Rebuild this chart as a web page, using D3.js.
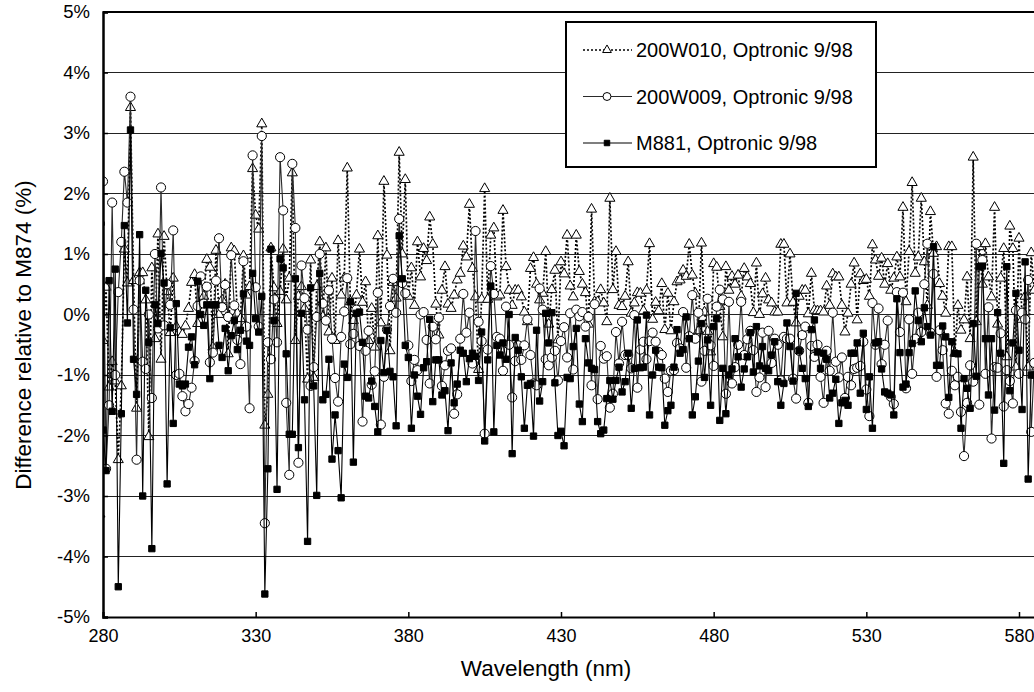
<!DOCTYPE html>
<html>
<head>
<meta charset="utf-8">
<script src="https://cdn.jsdelivr.net/npm/d3@7"></script>
<style>
  html, body { margin: 0; padding: 0; background: #fff; }
  svg { display: block; }
</style>
</head>
<body>
<div id="chart"></div>
<script>
// ── Data: difference relative to M874 (%), one value per nm from 279 nm
const START_NM = 279;

// 200W010, Optronic 9/98 (dotted, open triangles)
const tri = [
  -3.3,
  -0.43, 0.45, -1.2, -0.78, -1.1, -2.4, -1.18, 1.08, 0.52, 3.42,
  0.56, -1.55, 0.69, 0.69, 0.24, -2.02, 0.77, -0.4, 1.33, -0.74,
  1.29, 0.38, -0.3, 0.6, -0.2,
  -0.29, -0.33, -0.19, 0.1, 0.53, 0.66, -0.15, 0.2, 0.3, 0.91,
  0.78, -0.54, 1.06, 0.0, 0.24, 0.5, -0.65, 1.1, 1.05, 0.02,
  -0.07, 0.97, 0.32, 0.46, 2.41, 1.64,
  1.41, 3.15, -1.83, -1.32, 1.1, 0.44, -0.15, 0.38, 1.08, 0.24,
  0.6, 2.34, -0.43, 0.3, 0.46, 0.1, -1.07, 0.9, -1.04, 0.46,
  1.2, -0.04, 1.1, -0.29, 0.6,
  -0.43, 1.22, 0.32, 0.6, 2.42, 0.21, -0.1, 0.32,
  1.08, 0.2, 0.54, -0.43, 0.1, -0.54, 1.3, -0.14, 2.2, 0.98,
  -0.6, 0.53, 0.27, 2.68, 1.0, 2.23, 0.3, 0.77,
  0.15, 1.2, 0.62, 1.09, 0.89, 1.61, 1.16, 0.17, -0.34, 0.4,
  0.79, 0.17, 0.1, 0.32, 0.57, 0.68, 1.13, 0.95, 1.82, 0.76,
  0.29, -0.91, 0.25, 2.08, 0.25, 1.31, 1.43, 0.29, 0.32, 1.72,
  0.79, 0.4, 0.15, 0.4, 0.4, 0.29, 0.04, -0.12, 0.76, 0.94,
  0.5, 0.24, 0.35, 1.04, -0.16, 0.41, 0.73, -0.42, 0.87, 0.67,
  1.31, 0.47, 0.29, 1.31, 0.71, 0.5, 0.36, -0.16, 1.74, 0.21,
  0.21, 0.41, 0.19, -0.12, 1.92, 0.41, 1.04, 0.15, 0.13, 0.3,
  0.87, 0.02, 0.19, 0.36, 0.35, 0.06, 0.4, 1.17, -0.08, 0.2,
  0.06, 0.51, -0.25, 0.35, -0.27, 0.21, 0.54, 0.57, 0.73, 0.63,
  1.16, 0.65, 0.35, -0.27, 1.18, 0.04, -0.28, -0.62, 0.84, 0.78,
  0.13, -0.37,
  0.79, 0.4, 0.63, 0.5, 0.65, 0.3, 0.76, 0.62, 0.51, 0.03,
  0.85, 0.0, 0.34, 0.6, 0.24, 0.19, 0.04, 0.04, 1.16, 1.16,
  0.19, 1.0, 0.2, -0.14, 0.3, 0.4, 0.4, 0.01, 0.68, 0.07,
  0.06, 0.06, 0.04, 0.47, 0.15, 0.67, 0.62, 0.62, 0.15, -0.29,
  0.02, 0.5, 0.85, -0.09, 0.67, 0.56, 0.58, 0.3, 1.15, 0.9,
  0.63, 0.93, 0.5, 0.84, 0.4, 0.6, 0.95, 0.62, 1.77, 0.21,
  1.04, 2.18, 0.68, 0.95, 1.92, 0.87, 0.15, 1.7, 1.01, 1.12,
  0.51, 0.3, 0.02, 1.12, 1.12, -0.64, 0.15, -0.26, -0.09, 0.62,
  -0.4, 2.6, -0.12, 1.12, 0.5, 1.17, 0.62, 0.29, 1.77, -0.16,
  0.6, 1.09, -0.7, 1.46, 1.09, -0.87, 1.26, -0.08, 0.3, -0.87,
  1.02,
  0.4
];

// 200W009, Optronic 9/98 (solid, open circles)
const cir = [
  1.5,
  2.2, -2.55, -1.5, 1.85, -1.0, 0.37, 1.2, 2.36, 1.85, 3.6,
  0.08, -2.4, 0.56, -0.78, -0.9, 0.0, -1.38, 1.0, -0.23, 2.1,
  -0.18, 0.5, 0.16, 1.39, -1.0,
  -0.98, -1.35, -1.6, -1.48, -1.21, -0.77, 0.14, 0.63, 0.18, 0.46,
  -0.79, -0.63, 0.56, 1.26, 0.12, 0.49, -0.04, 0.98, 0.15, -0.42,
  -0.82, 0.88, -0.2, -1.55, 2.63, 0.45,
  -0.2, 2.95, -3.45, -0.46, -0.74, 0.25, -0.46, 2.6, 1.72, -1.46,
  -2.65, 2.49, 1.43, -2.45, 0.81, 0.27, -0.25, -1.18, -0.87, -0.04,
  1.0, 0.18, -0.1, 0.4, -0.4,
  -1.05, -1.44, -0.37, 0.05, 0.6, -0.49, -0.32, 0.08, -0.52, -1.77,
  -0.6, -0.27, -1.16, -0.94, 0.36, -1.82, -1.03, -0.25, 0.14, 0.59,
  0.03, 1.58, 0.52, 0.35, -0.51, -1.1,
  -0.75, -0.92, 0.0, 0.04, -0.42, -1.14, -0.2, -0.41, -0.05, -1.18,
  -0.84, -0.6, -0.56, -1.64, -1.32, -0.4, 0.34, -0.3, 0.03, -0.81,
  1.38, -0.12, -0.44, -1.97, -0.58, 0.8, 0.34, -0.37, -0.4, -0.93,
  0.13, -0.5, -1.37, -0.77, -0.51, -0.75, -0.51, -0.08, -0.67, -1.14,
  -1.17, 0.43, 0.08, -0.74, -0.84, -0.71, -0.6, -1.09, -0.44, -0.21,
  -0.71, 0.02, -0.91, 0.08, -0.03, 0.04, -0.2, -0.04, -1.17, 0.17,
  -1.4, -0.52, -0.73, -0.69, -1.54, -1.31, -0.29, -0.81, -0.12, -0.67,
  -0.67, -0.89, -0.01, -1.21, -0.58, -0.45, -0.74, -0.44, -0.3, -0.45,
  -0.62, -0.67, -1.06, -1.28, -0.93, -0.92, -0.47, -0.56, 0.04, -0.88,
  -0.36, 0.32, -0.4, 0.03, -1.11, -0.6, 0.26, -0.51, -0.85, 0.13,
  0.41, 0.25,
  -1.31, 0.21, -1.14, -0.87, -0.5, 0.21, -0.67, -0.41, -0.27, -0.59,
  -1.28, -1.04, -0.3, -1.2, -0.27, -0.8, -0.4, -0.5, -1.09, -0.37,
  -0.4, -0.4, -1.06, -1.39, -0.6, -0.34, -0.2, -1.46, -0.52, -0.7,
  -0.5, -1.03, -1.46, -0.6, -0.93, 0.03, -0.78, -1.04, -0.71, -1.38,
  -1.03, -1.17, -0.9, -0.88, -0.85, -0.45, -1.24, -1.68, 0.19, -0.5,
  0.1, -0.82, -0.5, -0.1, -1.36, -1.48, 0.37, -0.29, 0.36, -1.22,
  -0.08, -0.98, -0.4, 0.03, -0.29, 0.5, 1.17, -0.3, 0.67, -1.03,
  -0.26, -0.59, -1.47, -1.64, -0.93, -1.17, -1.03, -1.61, -2.34, -1.46,
  -0.84, -1.11, 1.17, -1.49, 0.9, -0.98, 0.12, -2.05, -0.87, -0.88,
  -0.31, -1.52, -0.92, -1.1, -1.47, 0.07, -0.98, 0.03, -0.08, 0.57,
  -1.94,
  -0.8
];

// M881, Optronic 9/98 (solid, filled squares)
const sq = [
  -5.6,
  -1.91, -2.58, 0.56, -1.6, 0.75, -4.5, -1.64, 1.47, -0.14, 3.05,
  -0.74, -1.32, 1.32, -3.0, 0.4, -0.46, -3.87, 0.16, -0.15, 1.01,
  0.52, -2.8, -0.22, -1.8, 0.18,
  -1.15, -1.18, -1.15, -0.54, -0.37, -0.83, 0.55, 0.0, -0.18, 0.16,
  -1.06, 0.16, 0.16, -0.51, -0.71, -0.23, -0.93, -0.35, -0.1, -0.58,
  -0.26, 0.34, -0.44, -0.51, 0.68, -0.07,
  -0.29, 0.3, -4.62, -2.55, 1.08, -0.1, -2.89, 0.92, 0.77, -0.65,
  -1.98, -1.98, 0.59, -2.2, 0.02, -1.41, -3.75, 0.44, -1.18, -2.99,
  0.68, -1.41, -1.32, -0.74, -2.39,
  -1.66, -2.25, -3.03, -0.82, -1.04, 0.21, -2.44, 0.02, 0.04, -0.46,
  -1.35, -1.38, -1.1, -1.52, -1.94, -0.43, -0.96, -0.26, -0.94, -1.03,
  -1.84, 1.3, 0.59, -0.51, -0.71, -1.88,
  -1.0, -1.35, -1.65, -0.88, -0.78, -0.08, -1.44, -0.75, -0.75, -1.33,
  -1.26, -1.92, -0.8, -1.46, -1.15, -0.59, -0.64, -1.11, -0.73, -0.64,
  -0.69, -1.09, -0.29, -2.09, -0.75, 0.47, -1.94, -0.51, -0.67, -0.47,
  -0.74, 0.0, -2.3, -0.38, -0.59, -1.03, -1.88, -1.17, -1.14, -2.01,
  -0.26, -1.43, -1.11, 0.02, -0.47, 0.03, -1.13, -2.0, -1.93, -2.17,
  -1.04, -1.06, -0.53, -0.23, -1.48, -1.77, -0.4, -0.8, -0.89, -0.91,
  -1.77, -1.97, -1.91, -1.39, -1.09, -1.4, -1.09, -0.87, -1.28, -1.11,
  -0.64, -1.55, -0.89, -0.09, -0.88, -0.87, -0.01, -1.66, -1.0, -0.59,
  -0.87, -0.88, -1.83, -1.59, -1.5, -0.87, -0.25, -0.64, -0.58, -0.04,
  -0.4, -1.66, -1.36, -0.77, -0.15, -1.04, -0.42, -1.5, -0.2, -0.07,
  -1.75, -0.89,
  -1.64, -1.0, -0.9, -0.4, -0.7, -1.2, -0.9, -0.7, -0.3, -0.95,
  -0.2, -0.85, -0.53, -0.89, -0.93, -0.67, -0.45, -1.11, -1.5, -1.14,
  -0.14, -0.53, -1.1, 0.35, -0.6, -0.89, -1.06, -1.52, -0.25, -0.09,
  -0.62, -0.89, -0.64, -0.74, -1.38, -1.3, -1.07, -1.8, -1.46, -1.42,
  -1.5, -0.64, -0.64, -0.47, -1.3, -0.31, -1.57, -1.03, -1.88, -0.47,
  -0.45, -0.9, -1.28, -1.3, -1.33, -1.66, 0.26, -0.63, -1.2, -1.15,
  -0.63, -0.48, 0.39, -0.1, -0.45, 0.11, -0.2, -0.34, 1.12, -0.84,
  -0.84, -0.19, -0.37, -1.37, -0.45, -0.64, -0.65, -1.88, -1.06, -1.22,
  -1.55, -0.15, -1.02, 0.79, 0.8, -0.4, -1.33, -0.4, -1.58, 0.03,
  -0.64, -2.46, 0.79, -1.26, -0.47, 0.35, -0.59, -1.57, 0.87, -2.72,
  -1.0,
  -1.0
];

const xTicks = [280, 330, 380, 430, 480, 530, 580];
const yTicks = [-5, -4, -3, -2, -1, 0, 1, 2, 3, 4, 5];

const seriesNames = ['200W010, Optronic 9/98', '200W009, Optronic 9/98', 'M881, Optronic 9/98'];

// ── Layout
const W = 1034, H = 692;
const PLOT = { left: 103, top: 12, bottom: 617 };
const PX_PER_NM = (1019 - 103) / 300;
const FONT = 'Arial, "Liberation Sans", sans-serif';

const wl = tri.map((_, i) => START_NM + i);

const x = d3.scaleLinear().domain([280, 600]).range([PLOT.left, PLOT.left + 320 * PX_PER_NM]);
const y = d3.scaleLinear().domain([-5, 5]).range([PLOT.bottom, PLOT.top]);

const svg = d3.select('#chart').append('svg')
  .attr('width', W).attr('height', H)
  .style('background', '#fff');

svg.append('defs').append('clipPath').attr('id', 'plot-clip')
  .append('rect')
  .attr('x', PLOT.left).attr('y', PLOT.top)
  .attr('width', W - PLOT.left).attr('height', PLOT.bottom - PLOT.top);

// gridlines
svg.append('g')
  .selectAll('line')
  .data(yTicks.filter(d => d > -5 && d < 5))
  .join('line')
  .attr('x1', PLOT.left).attr('x2', W)
  .attr('y1', d => y(d)).attr('y2', d => y(d))
  .attr('stroke', '#222').attr('stroke-width', 1)
  .attr('shape-rendering', 'crispEdges');

// top border of plot area
svg.append('line')
  .attr('x1', PLOT.left).attr('x2', W)
  .attr('y1', PLOT.top).attr('y2', PLOT.top)
  .attr('stroke', '#000').attr('stroke-width', 2);

// ── Series
const plotG = svg.append('g').attr('clip-path', 'url(#plot-clip)');

const series = [
  { name: seriesNames[0], values: tri, dash: '2,2', lineW: 1.7, lineC: '#000',
    symbol: d3.symbolTriangle, size: 44, fill: '#fff' },
  { name: seriesNames[1], values: cir, dash: null, lineW: 1.1, lineC: '#2a2a2a',
    symbol: d3.symbolCircle, size: 66, fill: '#fff' },
  { name: seriesNames[2], values: sq, dash: null, lineW: 1.1, lineC: '#000',
    symbol: d3.symbolSquare, size: 40, fill: '#000' }
];

const line = d3.line()
  .x((d, i) => x(wl[i]))
  .y(d => y(d));

series.forEach(s => {
  const g = plotG.append('g');
  g.append('path')
    .datum(s.values)
    .attr('d', line)
    .attr('fill', 'none')
    .attr('stroke', s.lineC)
    .attr('stroke-width', s.lineW)
    .attr('stroke-dasharray', s.dash);
  g.selectAll('path.marker')
    .data(s.values)
    .join('path')
    .attr('class', 'marker')
    .attr('transform', (d, i) => `translate(${x(wl[i])},${y(d)})`)
    .attr('d', d3.symbol().type(s.symbol).size(s.size))
    .attr('fill', s.fill)
    .attr('stroke', '#000')
    .attr('stroke-width', 1);
});

// ── Axes
const yAxis = d3.axisLeft(y)
  .tickValues(yTicks)
  .tickSize(-5)
  .tickPadding(13)
  .tickFormat(d => `${d}%`);

const gy = svg.append('g')
  .attr('transform', `translate(${PLOT.left},0)`)
  .call(yAxis);
gy.select('.domain').attr('stroke', '#000').attr('stroke-width', 2.5);
gy.selectAll('.tick line').attr('stroke', '#000').attr('stroke-width', 1.5);
gy.selectAll('.tick text')
  .attr('font-family', FONT).attr('font-size', 18.5).attr('fill', '#000');

const xAxis = d3.axisBottom(x)
  .tickValues(xTicks)
  .tickSize(-5)
  .tickPadding(12)
  .tickFormat(d3.format('d'));

const gx = svg.append('g')
  .attr('transform', `translate(0,${PLOT.bottom})`)
  .call(xAxis);
gx.select('.domain').attr('stroke', '#000').attr('stroke-width', 2);
gx.selectAll('.tick line').attr('stroke', '#000').attr('stroke-width', 1.5);
gx.selectAll('.tick text')
  .attr('font-family', FONT).attr('font-size', 18).attr('fill', '#000');

// axis titles
svg.append('text')
  .attr('x', 546).attr('y', 676)
  .attr('text-anchor', 'middle')
  .attr('font-family', FONT).attr('font-size', 22.5)
  .text('Wavelength (nm)');

svg.append('text')
  .attr('transform', 'translate(31,335) rotate(-90)')
  .attr('text-anchor', 'middle')
  .attr('font-family', FONT).attr('font-size', 22.5)
  .text('Difference relative to M874 (%)');

// ── Legend
const LEG = { x: 566, y: 22, w: 310, h: 145 };
const leg = svg.append('g');
leg.append('rect')
  .attr('x', LEG.x).attr('y', LEG.y)
  .attr('width', LEG.w).attr('height', LEG.h)
  .attr('fill', '#fff').attr('stroke', '#000').attr('stroke-width', 2);

const rowY = d3.scalePoint().domain(seriesNames).range([50, 143]);

series.forEach(s => {
  const ry = rowY(s.name);
  leg.append('line')
    .attr('x1', 583).attr('x2', 632)
    .attr('y1', ry).attr('y2', ry)
    .attr('stroke', s.lineC).attr('stroke-width', s.lineW)
    .attr('stroke-dasharray', s.dash);
  leg.append('path')
    .attr('transform', `translate(607,${ry})`)
    .attr('d', d3.symbol().type(s.symbol).size(s.size * 0.75))
    .attr('fill', s.fill).attr('stroke', '#000').attr('stroke-width', 1);
  leg.append('text')
    .attr('x', 636).attr('y', ry)
    .attr('dy', '0.35em')
    .attr('font-family', FONT).attr('font-size', 20)
    .text(s.name);
});
</script>
</body>
</html>
